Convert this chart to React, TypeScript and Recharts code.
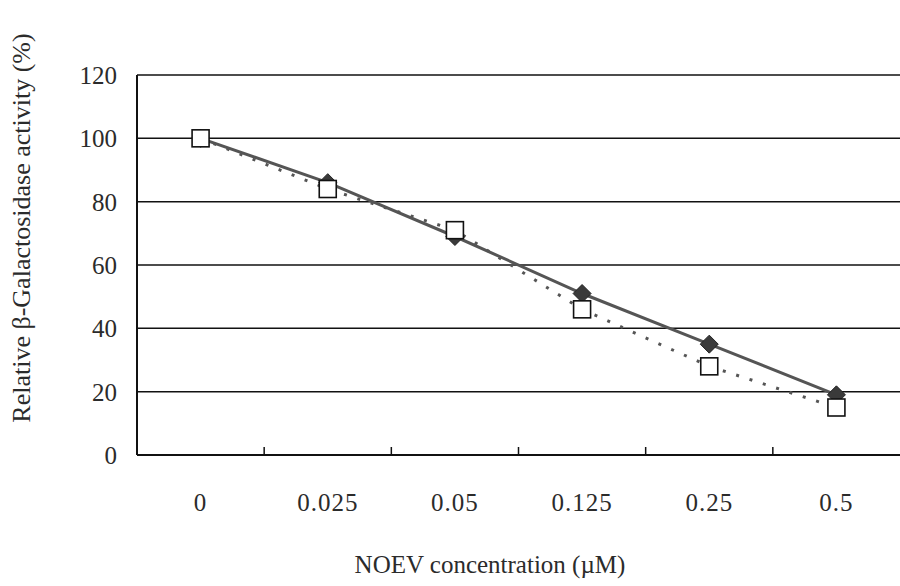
import React from "react";
import {
  ComposedChart,
  Line,
  XAxis,
  YAxis,
  CartesianGrid,
  Label,
} from "recharts";

// NOEV concentration categories (µM)
const concentrations = ["0", "0.025", "0.05", "0.125", "0.25", "0.5"];
// filled diamonds, solid line
const diamondValues = [100, 86, 69, 51, 35, 19];
// open squares, dotted line
const squareValues = [100, 84, 71, 46, 28, 15];
const yTicks = [0, 20, 40, 60, 80, 100, 120];

const FONT = "'Liberation Serif', 'DejaVu Serif', serif";
const INK = "#2b2b2b";

const data = concentrations.map((c, i) => ({
  conc: c,
  diamond: diamondValues[i],
  square: squareValues[i],
}));

const DiamondDot = ({ cx, cy }: any) => {
  if (cx == null || cy == null) return null;
  const r = 9;
  return (
    <path
      d={`M${cx},${cy - r} L${cx + r},${cy} L${cx},${cy + r} L${cx - r},${cy} Z`}
      fill="#3a3a3a"
      stroke="#222"
      strokeWidth={1}
    />
  );
};

const SquareDot = ({ cx, cy }: any) => {
  if (cx == null || cy == null) return null;
  const s = 17;
  return (
    <rect
      x={cx - s / 2}
      y={cy - s / 2}
      width={s}
      height={s}
      fill="#ffffff"
      stroke="#111"
      strokeWidth={1.6}
    />
  );
};

// category label plus a small inward mark on the boundary to its right
const XTick = ({ x, y, payload, index, width, visibleTicksCount }: any) => {
  const band = width / visibleTicksCount;
  const axisY = 455;
  return (
    <g>
      <text
        x={x}
        y={y + 48}
        textAnchor="middle"
        fontFamily={FONT}
        fontSize={25}
        letterSpacing={1}
        fill={INK}
      >
        {payload.value}
      </text>
      {index < visibleTicksCount - 1 && (
        <line
          x1={x + band / 2}
          x2={x + band / 2}
          y1={axisY}
          y2={axisY - 8}
          stroke="#111"
          strokeWidth={1.5}
        />
      )}
    </g>
  );
};

export default function App() {
  return (
    <div style={{ position: "absolute", left: 0, top: 0, width: 900, height: 586, background: "#fff" }}>
      <ComposedChart
        width={900}
        height={586}
        data={data}
        margin={{ top: 75, right: 0, bottom: 0, left: 0 }}
      >
        <CartesianGrid vertical={false} stroke="#111" strokeWidth={1.5} />
        <XAxis
          dataKey="conc"
          scale="band"
          height={131}
          axisLine={{ stroke: "#111", strokeWidth: 2 }}
          tickLine={false}
          tick={<XTick />}
          interval={0}
        >
          <Label
            content={() => (
              <text x={490} y={573} textAnchor="middle" fontFamily={FONT} fontSize={25} fill={INK}>
                NOEV concentration (µM)
              </text>
            )}
          />
        </XAxis>
        <YAxis
          width={137}
          domain={[0, 120]}
          ticks={yTicks}
          axisLine={{ stroke: "#111", strokeWidth: 2 }}
          tickLine={false}
          tickMargin={14}
          tick={{ fontFamily: FONT, fontSize: 25, fill: INK }}
        >
          <Label
            content={() => (
              <text
                x={0}
                y={0}
                transform="translate(30,228) rotate(-90)"
                textAnchor="middle"
                fontFamily={FONT}
                fontSize={26}
                fill={INK}
              >
                Relative β-Galactosidase activity (%)
              </text>
            )}
          />
        </YAxis>
        <Line
          type="linear"
          dataKey="diamond"
          stroke="#555"
          strokeWidth={3}
          dot={<DiamondDot />}
          activeDot={false}
          isAnimationActive={false}
        />
        <Line
          type="linear"
          dataKey="square"
          stroke="#555"
          strokeWidth={3}
          strokeDasharray="3 11"
          dot={<SquareDot />}
          activeDot={false}
          isAnimationActive={false}
        />
      </ComposedChart>
    </div>
  );
}
